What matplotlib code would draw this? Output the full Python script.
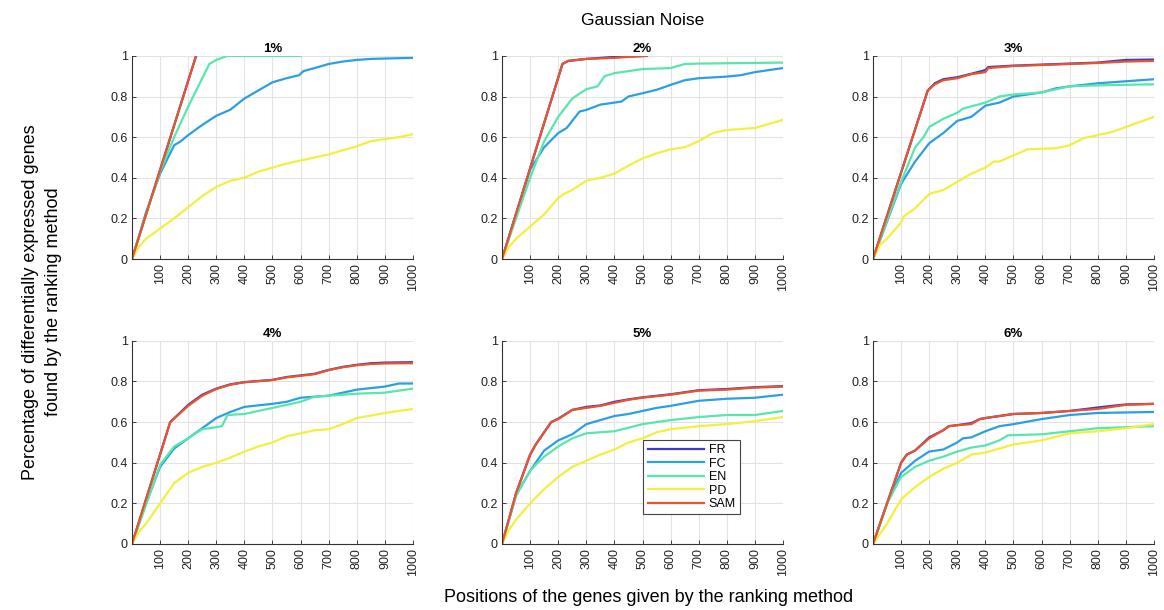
import matplotlib
matplotlib.use('Agg')
import matplotlib.pyplot as plt

plt.rcParams['font.family'] = ['Liberation Sans', 'DejaVu Sans']

# cores dos métodos
cores = {
    'FR': '#3a3ad2',
    'FC': '#2c9fe3',
    'EN': '#58e6ad',
    'PD': '#f3ef3f',
    'SAM': '#e8552c',
}
metodos = ['FR', 'FC', 'EN', 'PD', 'SAM']
titulos = ['1%', '2%', '3%', '4%', '5%', '6%']

# ---------- 1% ----------
p1_sam_x = [0, 228]
p1_sam_y = [0, 1.0]
p1_fr_x = [0, 228]
p1_fr_y = [0, 1.0]
p1_en_x = [0, 50, 100, 150, 200, 250, 275, 300, 340, 600]
p1_en_y = [0, 0.22, 0.43, 0.6, 0.75, 0.89, 0.96, 0.98, 1.0, 1.0]
p1_fc_x = [0, 50, 100, 150, 174, 200, 250, 300, 350, 400, 450, 500, 550, 595, 610, 650, 700, 750, 800, 850, 900, 1000]
p1_fc_y = [0, 0.23, 0.42, 0.56, 0.58, 0.61, 0.66, 0.705, 0.735, 0.79, 0.83, 0.87, 0.89, 0.905, 0.925, 0.94, 0.96, 0.972, 0.98, 0.985, 0.987, 0.99]
p1_pd_x = [0, 25, 50, 100, 150, 200, 250, 300, 350, 400, 450, 500, 550, 600, 650, 700, 750, 800, 850, 900, 950, 1000]
p1_pd_y = [0, 0.06, 0.1, 0.15, 0.2, 0.255, 0.31, 0.355, 0.385, 0.4, 0.43, 0.45, 0.47, 0.485, 0.5, 0.515, 0.535, 0.555, 0.58, 0.59, 0.6, 0.615]

# ---------- 2% ----------
p2_sam_x = [0, 215, 235, 300, 400, 450, 515]
p2_sam_y = [0, 0.96, 0.975, 0.985, 0.99, 0.995, 1.0]
p2_fr_x = [0, 215, 235, 300, 400, 450, 515]
p2_fr_y = [0, 0.96, 0.975, 0.985, 0.995, 0.997, 1.0]
p2_en_x = [0, 50, 100, 150, 200, 250, 300, 340, 365, 400, 500, 600, 650, 700, 1000]
p2_en_y = [0, 0.2, 0.4, 0.58, 0.7, 0.79, 0.836, 0.85, 0.9, 0.915, 0.935, 0.94, 0.96, 0.962, 0.967]
p2_fc_x = [0, 50, 100, 150, 200, 230, 276, 300, 350, 400, 425, 450, 500, 550, 600, 650, 700, 800, 850, 900, 1000]
p2_fc_y = [0, 0.22, 0.44, 0.55, 0.62, 0.645, 0.726, 0.734, 0.76, 0.77, 0.775, 0.8, 0.816, 0.833, 0.857, 0.88, 0.89, 0.898, 0.905, 0.92, 0.94]
p2_pd_x = [0, 25, 50, 100, 150, 200, 220, 250, 300, 350, 400, 450, 500, 550, 600, 650, 700, 750, 800, 900, 1000]
p2_pd_y = [0, 0.06, 0.1, 0.16, 0.22, 0.3, 0.32, 0.34, 0.385, 0.4, 0.42, 0.46, 0.495, 0.52, 0.54, 0.55, 0.58, 0.62, 0.635, 0.645, 0.685]

# ---------- 3% ----------
p3_sam_x = [0, 195, 220, 250, 300, 350, 400, 410, 500, 600, 700, 800, 900, 1000]
p3_sam_y = [0, 0.83, 0.86, 0.88, 0.89, 0.91, 0.92, 0.94, 0.95, 0.955, 0.96, 0.965, 0.972, 0.975]
p3_fr_x = [0, 195, 220, 250, 300, 350, 400, 410, 500, 600, 700, 800, 900, 1000]
p3_fr_y = [0, 0.83, 0.865, 0.885, 0.895, 0.912, 0.93, 0.945, 0.952, 0.957, 0.962, 0.967, 0.98, 0.982]
p3_en_x = [0, 100, 150, 180, 200, 250, 300, 320, 400, 450, 500, 600, 700, 800, 1000]
p3_en_y = [0, 0.38, 0.55, 0.6, 0.65, 0.69, 0.72, 0.74, 0.77, 0.8, 0.81, 0.82, 0.85, 0.855, 0.86]
p3_fc_x = [0, 100, 150, 200, 250, 300, 350, 400, 450, 500, 600, 650, 700, 800, 900, 1000]
p3_fc_y = [0, 0.37, 0.48, 0.57, 0.62, 0.68, 0.7, 0.755, 0.77, 0.8, 0.82, 0.84, 0.85, 0.865, 0.875, 0.885]
p3_pd_x = [0, 25, 50, 100, 110, 150, 200, 250, 300, 350, 400, 430, 450, 500, 550, 650, 700, 750, 800, 850, 900, 1000]
p3_pd_y = [0, 0.07, 0.1, 0.18, 0.21, 0.25, 0.32, 0.34, 0.38, 0.42, 0.45, 0.48, 0.48, 0.51, 0.54, 0.545, 0.56, 0.595, 0.61, 0.625, 0.65, 0.7]

# ---------- 4% ----------
p4_sam_x = [0, 136, 200, 250, 300, 350, 400, 500, 550, 600, 650, 700, 750, 800, 850, 900, 1000]
p4_sam_y = [0, 0.6, 0.68, 0.73, 0.763, 0.784, 0.796, 0.807, 0.82, 0.828, 0.836, 0.856, 0.87, 0.88, 0.886, 0.889, 0.89]
p4_fr_x = [0, 136, 200, 250, 300, 350, 400, 500, 550, 600, 650, 700, 750, 800, 850, 900, 1000]
p4_fr_y = [0, 0.6, 0.685, 0.735, 0.765, 0.786, 0.797, 0.808, 0.822, 0.83, 0.838, 0.857, 0.872, 0.882, 0.89, 0.893, 0.895]
p4_fc_x = [0, 50, 100, 150, 200, 250, 300, 350, 400, 500, 550, 600, 700, 800, 900, 950, 1000]
p4_fc_y = [0, 0.2, 0.38, 0.47, 0.52, 0.57, 0.62, 0.65, 0.675, 0.69, 0.7, 0.72, 0.73, 0.76, 0.775, 0.79, 0.79]
p4_en_x = [0, 100, 150, 200, 250, 300, 320, 340, 400, 500, 600, 650, 800, 900, 1000]
p4_en_y = [0, 0.39, 0.48, 0.52, 0.565, 0.575, 0.58, 0.635, 0.64, 0.67, 0.7, 0.725, 0.74, 0.745, 0.765]
p4_pd_x = [0, 25, 50, 100, 150, 200, 250, 300, 350, 400, 450, 500, 550, 600, 650, 700, 750, 800, 900, 1000]
p4_pd_y = [0, 0.06, 0.1, 0.2, 0.3, 0.35, 0.38, 0.4, 0.425, 0.455, 0.48, 0.5, 0.53, 0.545, 0.56, 0.565, 0.59, 0.62, 0.645, 0.665]

# ---------- 5% ----------
p5_sam_x = [0, 50, 100, 120, 150, 175, 200, 250, 300, 350, 400, 450, 500, 600, 700, 800, 900, 1000]
p5_sam_y = [0, 0.25, 0.44, 0.49, 0.55, 0.6, 0.615, 0.66, 0.67, 0.68, 0.695, 0.71, 0.72, 0.735, 0.755, 0.76, 0.77, 0.775]
p5_fr_x = [0, 50, 100, 120, 150, 175, 200, 250, 300, 350, 400, 450, 500, 600, 700, 800, 900, 1000]
p5_fr_y = [0, 0.25, 0.44, 0.49, 0.55, 0.6, 0.617, 0.66, 0.675, 0.682, 0.7, 0.712, 0.722, 0.737, 0.757, 0.763, 0.772, 0.777]
p5_fc_x = [0, 50, 100, 150, 200, 250, 300, 350, 400, 450, 500, 550, 600, 700, 800, 900, 1000]
p5_fc_y = [0, 0.24, 0.36, 0.46, 0.51, 0.54, 0.59, 0.61, 0.63, 0.64, 0.655, 0.67, 0.68, 0.705, 0.715, 0.72, 0.735]
p5_en_x = [0, 50, 100, 120, 150, 200, 250, 300, 400, 500, 600, 700, 800, 900, 1000]
p5_en_y = [0, 0.24, 0.36, 0.39, 0.43, 0.48, 0.52, 0.545, 0.555, 0.59, 0.61, 0.625, 0.635, 0.635, 0.655]
p5_pd_x = [0, 25, 50, 100, 150, 200, 250, 300, 350, 400, 450, 500, 550, 600, 700, 800, 900, 1000]
p5_pd_y = [0, 0.07, 0.12, 0.2, 0.27, 0.33, 0.38, 0.41, 0.44, 0.465, 0.5, 0.52, 0.55, 0.565, 0.58, 0.59, 0.605, 0.625]

# ---------- 6% ----------
p6_sam_x = [0, 50, 90, 100, 120, 150, 200, 250, 270, 300, 350, 380, 400, 500, 600, 700, 800, 900, 1000]
p6_sam_y = [0, 0.2, 0.36, 0.4, 0.44, 0.46, 0.52, 0.56, 0.58, 0.585, 0.59, 0.615, 0.62, 0.64, 0.645, 0.655, 0.665, 0.685, 0.69]
p6_fr_x = [0, 50, 90, 100, 120, 150, 200, 250, 270, 300, 350, 380, 400, 500, 600, 700, 800, 850, 900, 1000]
p6_fr_y = [0, 0.2, 0.36, 0.4, 0.44, 0.46, 0.525, 0.56, 0.58, 0.585, 0.595, 0.615, 0.62, 0.64, 0.645, 0.655, 0.672, 0.68, 0.687, 0.69]
p6_fc_x = [0, 50, 100, 150, 200, 250, 300, 320, 350, 400, 450, 500, 600, 700, 800, 1000]
p6_fc_y = [0, 0.2, 0.35, 0.41, 0.455, 0.465, 0.5, 0.52, 0.525, 0.555, 0.58, 0.59, 0.615, 0.635, 0.645, 0.65]
p6_en_x = [0, 50, 100, 150, 200, 250, 300, 350, 400, 450, 480, 600, 700, 800, 900, 1000]
p6_en_y = [0, 0.2, 0.33, 0.38, 0.41, 0.43, 0.455, 0.475, 0.485, 0.51, 0.535, 0.54, 0.555, 0.57, 0.575, 0.58]
p6_pd_x = [0, 25, 50, 100, 150, 200, 250, 300, 350, 400, 450, 500, 550, 600, 700, 800, 900, 1000]
p6_pd_y = [0, 0.05, 0.1, 0.22, 0.28, 0.33, 0.37, 0.4, 0.44, 0.45, 0.47, 0.49, 0.5, 0.51, 0.545, 0.555, 0.57, 0.59]

paineis = [
    {'FR': (p1_fr_x, p1_fr_y), 'FC': (p1_fc_x, p1_fc_y), 'EN': (p1_en_x, p1_en_y), 'PD': (p1_pd_x, p1_pd_y), 'SAM': (p1_sam_x, p1_sam_y)},
    {'FR': (p2_fr_x, p2_fr_y), 'FC': (p2_fc_x, p2_fc_y), 'EN': (p2_en_x, p2_en_y), 'PD': (p2_pd_x, p2_pd_y), 'SAM': (p2_sam_x, p2_sam_y)},
    {'FR': (p3_fr_x, p3_fr_y), 'FC': (p3_fc_x, p3_fc_y), 'EN': (p3_en_x, p3_en_y), 'PD': (p3_pd_x, p3_pd_y), 'SAM': (p3_sam_x, p3_sam_y)},
    {'FR': (p4_fr_x, p4_fr_y), 'FC': (p4_fc_x, p4_fc_y), 'EN': (p4_en_x, p4_en_y), 'PD': (p4_pd_x, p4_pd_y), 'SAM': (p4_sam_x, p4_sam_y)},
    {'FR': (p5_fr_x, p5_fr_y), 'FC': (p5_fc_x, p5_fc_y), 'EN': (p5_en_x, p5_en_y), 'PD': (p5_pd_x, p5_pd_y), 'SAM': (p5_sam_x, p5_sam_y)},
    {'FR': (p6_fr_x, p6_fr_y), 'FC': (p6_fc_x, p6_fc_y), 'EN': (p6_en_x, p6_en_y), 'PD': (p6_pd_x, p6_pd_y), 'SAM': (p6_sam_x, p6_sam_y)},
]

xticks = [100, 200, 300, 400, 500, 600, 700, 800, 900, 1000]
yticks = [0, 0.2, 0.4, 0.6, 0.8, 1]
ytick_labels = ['0', '0.2', '0.4', '0.6', '0.8', '1']

fig = plt.figure(figsize=(11.64, 6.1), dpi=100)

lefts = [0.1134, 0.4313, 0.75]
bottoms = [0.5754, 0.1082]
w, h = 0.2414, 0.333

for i, dados in enumerate(paineis):
    ax = fig.add_axes([lefts[i % 3], bottoms[i // 3], w, h])
    for m in metodos:
        x, y = dados[m]
        ax.plot(x, y, color=cores[m], lw=1.6, label=m)
    ax.set_xlim(0, 1000)
    ax.set_ylim(0, 1)
    ax.set_xticks(xticks)
    ax.set_xticklabels([str(t) for t in xticks], rotation=90, fontsize=9)
    ax.set_yticks(yticks)
    ax.set_yticklabels(ytick_labels, fontsize=9)
    ax.grid(True, color='#e3e3e3', lw=0.8)
    ax.set_axisbelow(True)
    ax.spines['top'].set_visible(False)
    ax.spines['right'].set_visible(False)
    for s in ['left', 'bottom']:
        ax.spines[s].set_color('#333333')
        ax.spines[s].set_linewidth(0.8)
    ax.tick_params(direction='in', length=3, width=0.6, colors='#222222', pad=3)
    ax.set_title(titulos[i], fontsize=9.5, fontweight='bold', pad=3)
    if i == 4:
        leg = ax.legend(loc='lower left', bbox_to_anchor=(0.48, 0.115), fontsize=9,
                        handlelength=4.5, labelspacing=0.12, borderpad=0.35,
                        handletextpad=0.4, fancybox=False, framealpha=1)
        leg.get_frame().set_edgecolor('#444444')
        leg.get_frame().set_linewidth(0.8)

fig.text(0.552, 0.967, 'Gaussian Noise', ha='center', va='center', fontsize=12.5)
fig.text(0.557, 0.021, 'Positions of the genes given by the ranking method', ha='center', va='center', fontsize=13)
fig.text(0.036, 0.505, 'Percentage of differentially expressed genes\nfound by the ranking method',
         ha='center', va='center', rotation=90, fontsize=13, linespacing=1.45)

fig.savefig('out.png', dpi=100)
